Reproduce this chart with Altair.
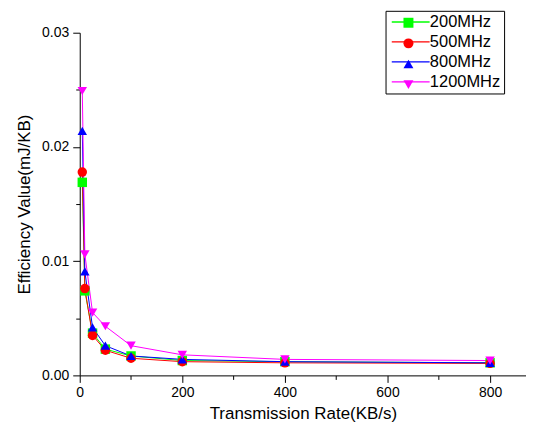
import altair as alt
import pandas as pd

rates = [5, 10, 25, 50, 100, 200, 400, 800]
series_names = ["200MHz", "500MHz", "800MHz", "1200MHz"]
v200 = [0.0169, 0.0074, 0.0037, 0.0023, 0.0017, 0.0013, 0.0012, 0.0011]
v500 = [0.0178, 0.0076, 0.0035, 0.0022, 0.0015, 0.0012, 0.0011, 0.00105]
v800 = [0.0214, 0.0091, 0.0042, 0.0026, 0.0017, 0.0014, 0.0012, 0.0011]
v1200 = [0.0249, 0.0106, 0.0055, 0.0043, 0.0026, 0.0018, 0.0014, 0.0013]
colors = ["#00FF00", "#FF0000", "#0000FF", "#FF00FF"]
shapes = ["square", "circle", "triangle-up", "triangle-down"]

x_major = [0, 200, 400, 600, 800]
x_minor = [100, 300, 500, 700]
y_major = [0.0, 0.01, 0.02, 0.03]
y_minor = [0.005, 0.015, 0.025]

rows = []
for name, vals in zip(series_names, [v200, v500, v800, v1200]):
    for r, v in zip(rates, vals):
        rows.append({"rate": r, "value": v, "series": name})
df = pd.DataFrame(rows)

FONT = "Liberation Sans"
xscale = alt.Scale(domain=[0, 870], nice=False, zero=False)
yscale = alt.Scale(domain=[0, 0.03], nice=False)

line_color = alt.Color(
    "series:N",
    scale=alt.Scale(domain=series_names, range=colors),
    legend=alt.Legend(
        title=None, orient="none", legendX=307, legendY=-22,
        symbolType="M-1,0H6.6", symbolSize=100, symbolStrokeWidth=1.3,
        labelFont=FONT, labelFontSize=16.5, labelColor="black",
        labelOffset=25, rowPadding=3, padding=3,
        strokeColor="black", fillColor="white",
    ),
)

lines = alt.Chart(df).mark_line(strokeWidth=1).encode(
    x=alt.X("rate:Q", scale=xscale,
            axis=alt.Axis(values=x_major, title="Transmission Rate(KB/s)", grid=False,
                          format="d", tickSize=7, labelPadding=3, titlePadding=6,
                          domainColor="black", tickColor="black", labelColor="black",
                          titleColor="black", labelFont=FONT, titleFont=FONT,
                          labelFontSize=14, titleFontSize=17, titleFontWeight="normal",
                          labelFlush=False, orient="bottom")),
    y=alt.Y("value:Q", scale=yscale,
            axis=alt.Axis(values=y_major, title="Efficiency Value(mJ/KB)", grid=False,
                          format=".2f", tickSize=7, labelPadding=4, titlePadding=8,
                          domainColor="black", tickColor="black", labelColor="black",
                          titleColor="black", labelFont=FONT, titleFont=FONT,
                          labelFontSize=14, titleFontSize=17, titleFontWeight="normal",
                          labelFlush=False, orient="left")),
    color=line_color,
    detail="series:N",
    order="rate:Q",
)

marker_legend = dict(
    title=None, orient="none", legendX=321, legendY=-19,
    symbolSize=100, labelExpr="''", labelFontSize=1, labelOffset=0,
    rowPadding=9.7, padding=3,
)
point_color = alt.Color(
    "series:N",
    scale=alt.Scale(domain=series_names, range=colors),
    legend=alt.Legend(**marker_legend),
)
point_shape = alt.Shape(
    "series:N",
    scale=alt.Scale(domain=series_names, range=shapes),
    legend=alt.Legend(**marker_legend),
)

points = alt.Chart(df).mark_point(filled=True, size=90, opacity=1).encode(
    x=alt.X("rate:Q", scale=xscale,
            axis=alt.Axis(values=x_minor, labels=False, domain=False, grid=False,
                          title=None, tickSize=4, tickColor="black", orient="bottom")),
    y=alt.Y("value:Q", scale=yscale,
            axis=alt.Axis(values=y_minor, labels=False, domain=False, grid=False,
                          title=None, tickSize=4, tickColor="black", orient="left")),
    color=point_color,
    shape=point_shape,
)

chart = alt.layer(lines, points).resolve_scale(
    color="independent", shape="independent"
).resolve_axis(
    x="independent", y="independent"
).properties(
    width=448, height=344,
    autosize=alt.AutoSizeParams(type="none"),
    padding={"left": 72, "top": 24, "right": 0, "bottom": 52},
    background="white",
).configure_view(strokeWidth=0, stroke="transparent")

chart.save("out.html", embed_options={"renderer": "svg", "actions": False})
